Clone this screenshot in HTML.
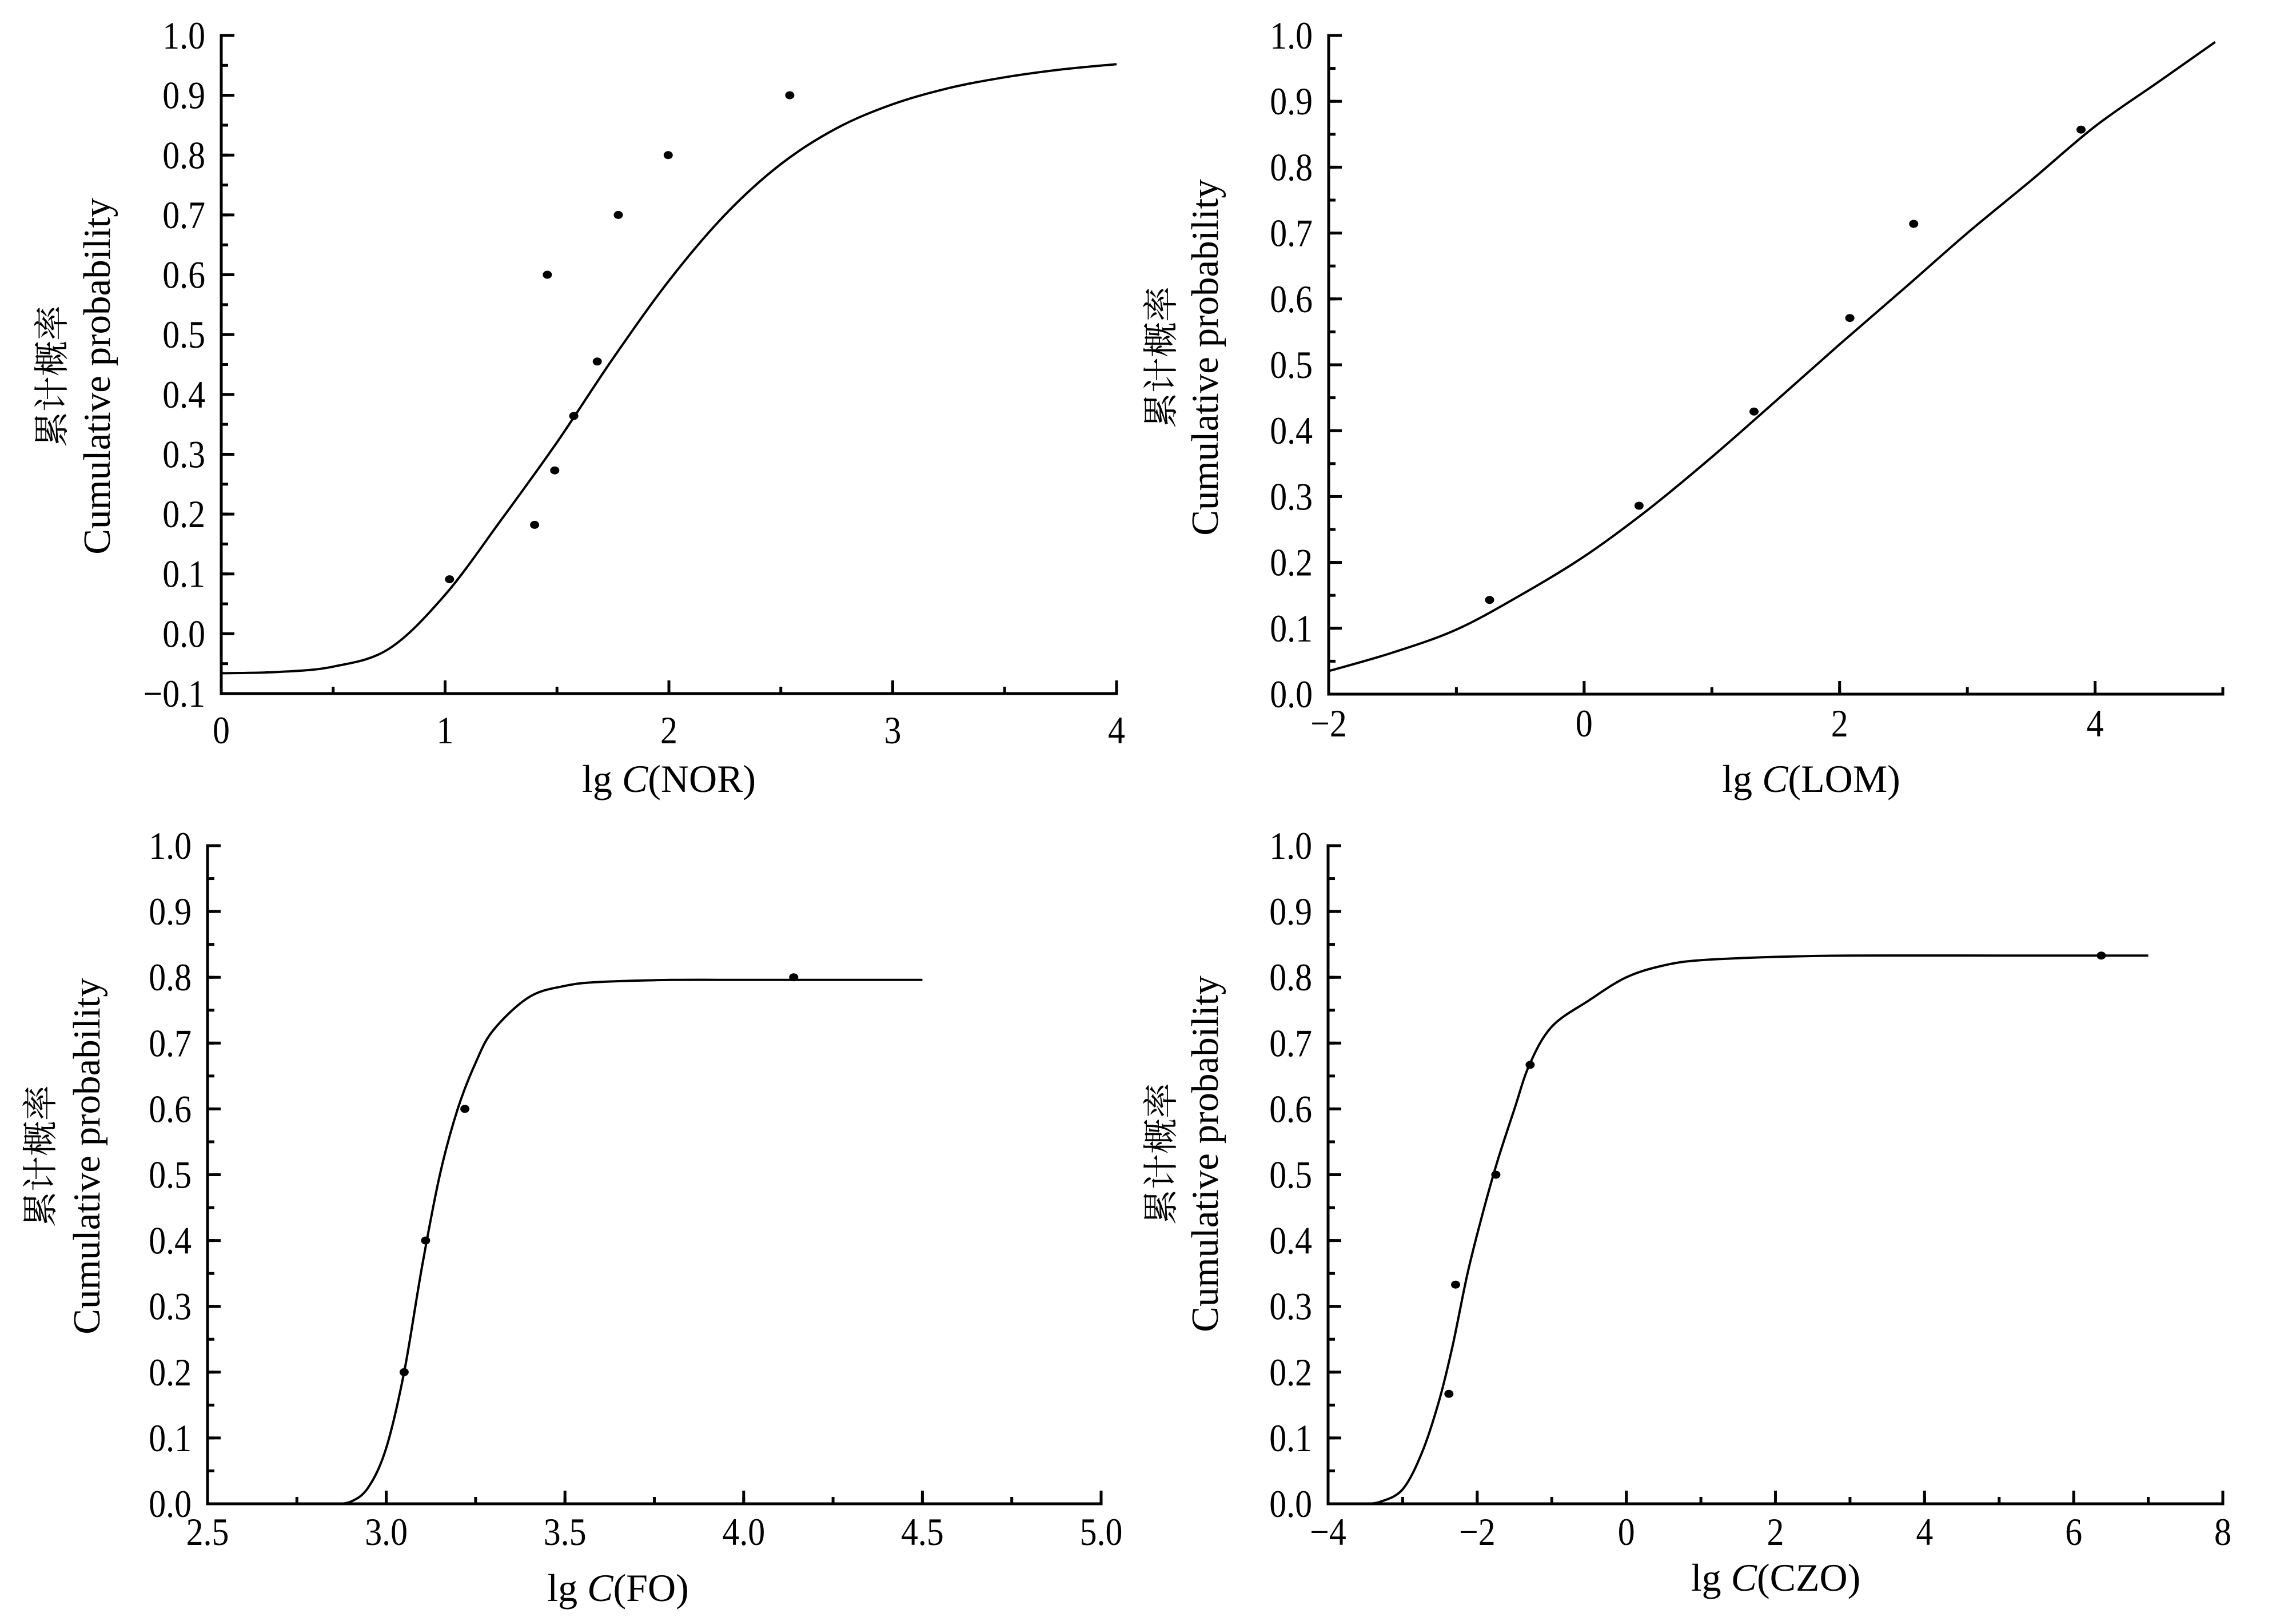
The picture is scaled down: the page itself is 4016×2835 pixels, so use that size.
<!DOCTYPE html>
<html><head><meta charset="utf-8"><title>Cumulative probability curves</title>
<style>
html,body{margin:0;padding:0;background:#fff;}
svg{display:block;}
text{font-family:"Liberation Serif","Noto Serif CJK SC",serif;fill:#000;}
</style></head>
<body>
<svg id="fig" xmlns="http://www.w3.org/2000/svg" width="4016" height="2835" viewBox="0 0 4016 2835">
<rect width="4016" height="2835" fill="#fff"/>
</svg>
<script>
// ---- Panel 1: NOR ----
const norPointsX = [1.02, 1.40, 1.49, 1.575, 1.68, 1.457, 1.774, 1.997, 2.54];
const norPointsY = [0.091, 0.182, 0.273, 0.364, 0.455, 0.6, 0.7, 0.8, 0.9];
const norCurveX = [0, 0.25, 0.5, 0.75, 1.0, 1.25, 1.5, 1.75, 2.0, 2.25, 2.5, 2.75, 3.0, 3.25, 3.5, 3.75, 4.0];
const norCurveY = [-0.066, -0.064, -0.055, -0.025, 0.065, 0.19, 0.32, 0.46, 0.59, 0.70, 0.785, 0.845, 0.885, 0.912, 0.93, 0.943, 0.952];
const norXTicks = [0, 1, 2, 3, 4];
const norYTicks = [-0.1, 0, 0.1, 0.2, 0.3, 0.4, 0.5, 0.6, 0.7, 0.8, 0.9, 1.0];

// ---- Panel 2: LOM ----
const lomPointsX = [-0.74, 0.43, 1.33, 2.08, 2.58, 3.89];
const lomPointsY = [0.143, 0.286, 0.429, 0.571, 0.714, 0.857];
const lomCurveX = [-2, -1.5, -1, -0.5, 0, 0.5, 1, 1.5, 2, 2.5, 3, 3.5, 4, 4.5, 4.94];
const lomCurveY = [0.035, 0.063, 0.098, 0.15, 0.209, 0.28, 0.36, 0.445, 0.531, 0.615, 0.70, 0.78, 0.862, 0.93, 0.99];
const lomXTicks = [-2, 0, 2, 4];
const lomYTicks = [0, 0.1, 0.2, 0.3, 0.4, 0.5, 0.6, 0.7, 0.8, 0.9, 1.0];

// ---- Panel 3: FO ----
const foPointsX = [3.05, 3.11, 3.22, 4.14];
const foPointsY = [0.2, 0.4, 0.6, 0.8];
const foCurveX = [2.85, 2.9, 2.95, 3.0, 3.05, 3.1, 3.15, 3.2, 3.25, 3.3, 3.4, 3.5, 3.6, 3.8, 4.0, 4.5];
const foCurveY = [0, 0.003, 0.025, 0.085, 0.2, 0.36, 0.5, 0.6, 0.67, 0.72, 0.77, 0.787, 0.793, 0.796, 0.796, 0.796];
const foXTicks = [2.5, 3.0, 3.5, 4.0, 4.5, 5.0];
const foYTicks = [0, 0.1, 0.2, 0.3, 0.4, 0.5, 0.6, 0.7, 0.8, 0.9, 1.0];

// ---- Panel 4: CZO ----
const czoPointsX = [-2.38, -2.29, -1.75, -1.29, 6.37];
const czoPointsY = [0.167, 0.333, 0.5, 0.667, 0.833];
const czoCurveX = [-3.5, -3.3, -3.0, -2.74, -2.51, -2.33, -2.13, -1.93, -1.73, -1.5, -1.3, -1.0, -0.5, 0, 0.5, 1, 2, 3, 5, 7];
const czoCurveY = [0, 0.003, 0.022, 0.078, 0.157, 0.24, 0.35, 0.44, 0.52, 0.60, 0.667, 0.725, 0.765, 0.80, 0.818, 0.826, 0.831, 0.833, 0.833, 0.833];
const czoXTicks = [-4, -2, 0, 2, 4, 6, 8];
const czoYTicks = [0, 0.1, 0.2, 0.3, 0.4, 0.5, 0.6, 0.7, 0.8, 0.9, 1.0];

const NS = "http://www.w3.org/2000/svg";
const svg = document.getElementById("fig");

function mk(tag, attrs, parent) {
  const e = document.createElementNS(NS, tag);
  for (const k in attrs) e.setAttribute(k, attrs[k]);
  (parent || svg).appendChild(e);
  return e;
}
function fmt(v, dec) {
  const s = Math.abs(v).toFixed(dec);
  return (v < -1e-9 ? "\u2212" : "") + s;
}
function curvePath(xs, ys, sx, sy) {
  const p = xs.map((x, i) => [sx(x), sy(ys[i])]);
  let d = "M" + p[0][0].toFixed(1) + "," + p[0][1].toFixed(1);
  for (let i = 0; i < p.length - 1; i++) {
    const p0 = p[Math.max(0, i - 1)], p1 = p[i], p2 = p[i + 1], p3 = p[Math.min(p.length - 1, i + 2)];
    const c1x = p1[0] + (p2[0] - p0[0]) / 6, c1y = p1[1] + (p2[1] - p0[1]) / 6;
    const c2x = p2[0] - (p3[0] - p1[0]) / 6, c2y = p2[1] - (p3[1] - p1[1]) / 6;
    d += " C" + c1x.toFixed(1) + "," + c1y.toFixed(1) + " " + c2x.toFixed(1) + "," + c2y.toFixed(1) + " " + p2[0].toFixed(1) + "," + p2[1].toFixed(1);
  }
  return d;
}

function drawPanel(cfg) {
  const g = mk("g", {});
  
  
  const sx = v => cfg.px0 + (v - cfg.xmin) / (cfg.xmax - cfg.xmin) * (cfg.px1 - cfg.px0);
  const sy = v => cfg.py0 + (v - cfg.ymin) / (cfg.ymax - cfg.ymin) * (cfg.py1 - cfg.py0);
  const axisY = sy(cfg.ymin), axisX = sx(cfg.xmin);

  // axes
  const xa = mk("line", {x1: axisX - 2.5, y1: axisY, x2: sx(cfg.xmax) + 2.5, y2: axisY, stroke: "#000", "stroke-width": 5}, g);
  
  
  const ya = mk("line", {x1: axisX, y1: axisY + 2.5, x2: axisX, y2: sy(cfg.ymax) - 2.5, stroke: "#000", "stroke-width": 5}, g);
  
  

  // x minor ticks
  for (let v = cfg.xmin; v <= cfg.xmax + 1e-9; v += cfg.xMinorStep) {
    const t = mk("line", {x1: sx(v), y1: axisY, x2: sx(v), y2: axisY - 12, stroke: "#000", "stroke-width": 5}, g);
    
    
  }
  // x major ticks + labels
  cfg.xTicks.forEach(v => {
    const t = mk("line", {x1: sx(v), y1: axisY, x2: sx(v), y2: axisY - 23, stroke: "#000", "stroke-width": 5}, g);
    
    
    const lab = mk("text", {"text-anchor": "middle", "font-size": 68, transform: "translate(" + sx(v).toFixed(1) + "," + (axisY + cfg.xLabelDy) + ") scale(0.88,1)"}, g);
    lab.textContent = fmt(v, cfg.xDec);
    
    
  });
  // y minor ticks
  for (let v = cfg.ymin; v <= cfg.ymax + 1e-9; v += 0.05) {
    const t = mk("line", {x1: axisX, y1: sy(v), x2: axisX + 12, y2: sy(v), stroke: "#000", "stroke-width": 5}, g);
    
    
  }
  // y major ticks + labels
  cfg.yTicks.forEach(v => {
    const t = mk("line", {x1: axisX, y1: sy(v), x2: axisX + 23, y2: sy(v), stroke: "#000", "stroke-width": 5}, g);
    
    
    const lab = mk("text", {"text-anchor": "end", "font-size": 68, transform: "translate(" + (axisX - 28) + "," + (sy(v) + 23).toFixed(1) + ") scale(0.88,1)"}, g);
    lab.textContent = fmt(v, 1);
    
    
  });

  // x title
  const xt = mk("text", {x: cfg.xTitleX, y: cfg.xTitleY, "text-anchor": "middle", "font-size": 68}, g);
  
  
  const t1 = mk("tspan", {}, xt); t1.textContent = "lg ";
  const t2 = mk("tspan", {"font-style": "italic"}, xt); t2.textContent = "C";
  const t3 = mk("tspan", {}, xt); t3.textContent = "(" + cfg.label + ")";

  // y title
  const yc = mk("text", {"text-anchor": "middle", "dominant-baseline": "central", "font-size": 62, transform: "translate(" + cfg.yTitleCnX + "," + cfg.yTitleY + ") rotate(-90)"}, g);
  yc.textContent = "累计概率";
  
  
  const ye = mk("text", {"text-anchor": "middle", "dominant-baseline": "central", "font-size": 67, transform: "translate(" + cfg.yTitleEnX + "," + cfg.yTitleY + ") rotate(-90)"}, g);
  ye.textContent = "Cumulative probability";
  
  

  // fitted curve
  const path = mk("path", {d: curvePath(cfg.cx, cfg.cy, sx, sy), fill: "none", stroke: "#000", "stroke-width": 4}, g);
  
  

  // data points
  cfg.px.forEach((x, i) => {
    const c = mk("ellipse", {cx: sx(x).toFixed(1), cy: sy(cfg.py[i]).toFixed(1), rx: 8, ry: 7, fill: "#000"}, g);
    
    
  });
}

drawPanel({name: "panel-nor", label: "NOR", px0: 387, px1: 1953, xmin: 0, xmax: 4, py0: 1213, py1: 62, ymin: -0.1, ymax: 1.0,
  xTicks: norXTicks, xMinorStep: 0.5, yTicks: norYTicks, xDec: 0, xLabelDy: 87,
  xTitleX: 1170, xTitleY: 1385, yTitleCnX: 92, yTitleEnX: 170, yTitleY: 658,
  px: norPointsX, py: norPointsY, cx: norCurveX, cy: norCurveY});

drawPanel({name: "panel-lom", label: "LOM", px0: 2324, px1: 3888, xmin: -2, xmax: 5, py0: 1214, py1: 62, ymin: 0, ymax: 1.0,
  xTicks: lomXTicks, xMinorStep: 1, yTicks: lomYTicks, xDec: 0, xLabelDy: 74,
  xTitleX: 3168, xTitleY: 1385, yTitleCnX: 2032, yTitleEnX: 2108, yTitleY: 625,
  px: lomPointsX, py: lomPointsY, cx: lomCurveX, cy: lomCurveY});

drawPanel({name: "panel-fo", label: "FO", px0: 363, px1: 1926, xmin: 2.5, xmax: 5.0, py0: 2630, py1: 1479, ymin: 0, ymax: 1.0,
  xTicks: foXTicks, xMinorStep: 0.25, yTicks: foYTicks, xDec: 1, xLabelDy: 72,
  xTitleX: 1081, xTitleY: 2800, yTitleCnX: 72, yTitleEnX: 152, yTitleY: 2022,
  px: foPointsX, py: foPointsY, cx: foCurveX, cy: foCurveY});

drawPanel({name: "panel-czo", label: "CZO", px0: 2323, px1: 3888, xmin: -4, xmax: 8, py0: 2630, py1: 1479, ymin: 0, ymax: 1.0,
  xTicks: czoXTicks, xMinorStep: 1, yTicks: czoYTicks, xDec: 0, xLabelDy: 72,
  xTitleX: 3106, xTitleY: 2782, yTitleCnX: 2032, yTitleEnX: 2108, yTitleY: 2018,
  px: czoPointsX, py: czoPointsY, cx: czoCurveX, cy: czoCurveY});
</script>
</body></html>
